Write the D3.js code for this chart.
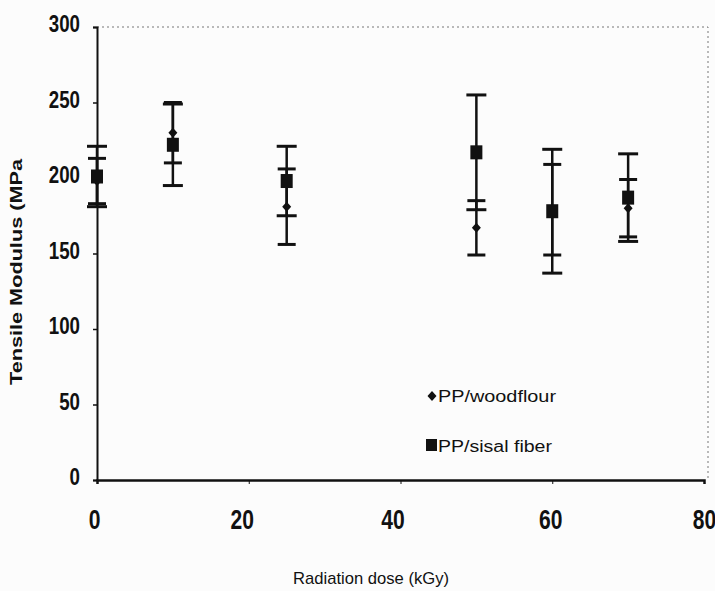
<!DOCTYPE html>
<html>
<head>
<meta charset="utf-8">
<script src="https://cdn.jsdelivr.net/npm/d3@7"></script>
<style>
  body { margin: 0; background: #fcfcfc; }
  svg { display: block; }
</style>
</head>
<body>
<div id="chart"></div>
<script>
const width = 715;
const height = 591;

// values
const doses = [0, 10, 25, 50, 60, 70];
const woodflour = [198, 230, 181, 167, 179, 180];
const woodflourErr = [15, 20, 25, 18, 30, 19];
const sisal = [201, 222, 198, 217, 178, 187];
const sisalErr = [20, 27, 23, 38, 41, 29];
const xTicks = [0, 20, 40, 60, 80];
const yTicks = [0, 50, 100, 150, 200, 250, 300];
const seriesNames = ["PP/woodflour", "PP/sisal fiber"];

const font = "'Liberation Sans', Arial, sans-serif";
const squeeze = 0.78; // the scan uses a narrow face

const x = d3.scaleLinear().domain([0, 80]).range([97, 704]);
const y = d3.scaleLinear().domain([0, 300]).range([480, 27]);

const svg = d3.select("#chart").append("svg")
  .attr("width", width)
  .attr("height", height)
  .style("font-family", font);

svg.append("rect").attr("width", width).attr("height", height).attr("fill", "#fcfcfc");

// faint dotted frame on top and right
svg.append("path")
  .attr("d", `M${x(0)},${y(300)} H${x(80) + 4} V${y(0)}`)
  .attr("fill", "none")
  .attr("stroke", "#777")
  .attr("stroke-width", 1)
  .attr("stroke-dasharray", "2,3");

// y axis
const yAxis = svg.append("g")
  .attr("transform", `translate(${x(0)},0)`)
  .call(d3.axisLeft(y).tickValues(yTicks).tickSize(4).tickPadding(14));
yAxis.select(".domain").attr("stroke", "#111").attr("stroke-width", 2);
yAxis.selectAll(".tick line").attr("stroke", "#111").attr("stroke-width", 1.5);
yAxis.selectAll("text")
  .attr("x", -17 / squeeze)
  .attr("dy", "0.2em")
  .attr("transform", `scale(${squeeze},1)`)
  .style("font-family", font)
  .style("font-size", "24px")
  .style("font-weight", "bold")
  .attr("fill", "#111");

// x axis
const xAxis = svg.append("g")
  .attr("transform", `translate(0,${y(0)})`)
  .call(d3.axisBottom(x).tickValues(xTicks).tickSize(4).tickPadding(26));
xAxis.select(".domain").attr("stroke", "#111").attr("stroke-width", 2.5);
xAxis.selectAll(".tick line").attr("stroke", "#111").attr("stroke-width", 1);
xAxis.selectAll("text")
  .attr("x", (d, i) => [-3, -7, -8, -2, 0][i] / squeeze)
  .attr("transform", `scale(${squeeze},1)`)
  .style("font-family", font)
  .style("font-size", "27px")
  .style("font-weight", "bold")
  .attr("fill", "#111");

// axis titles
svg.append("text")
  .attr("transform", `translate(22,272) rotate(-90)`)
  .attr("text-anchor", "middle")
  .attr("textLength", 226)
  .attr("lengthAdjust", "spacingAndGlyphs")
  .style("font-size", "17px")
  .style("font-weight", "bold")
  .attr("fill", "#111")
  .text("Tensile Modulus (MPa");

svg.append("text")
  .attr("x", 371)
  .attr("y", 584)
  .attr("text-anchor", "middle")
  .attr("textLength", 156)
  .attr("lengthAdjust", "spacingAndGlyphs")
  .style("font-size", "17px")
  .attr("fill", "#111")
  .text("Radiation dose (kGy)");

// error bars
function errorBars(values, errs, capW) {
  const g = svg.append("g").attr("stroke", "#111");
  const d = doses.map((dose, i) => ({ dose, v: values[i], e: errs[i] }));
  g.selectAll("line.stem").data(d).join("line")
    .attr("x1", p => x(p.dose)).attr("x2", p => x(p.dose))
    .attr("y1", p => y(p.v + p.e)).attr("y2", p => y(p.v - p.e))
    .attr("stroke-width", 2.5);
  g.selectAll("line.top").data(d).join("line")
    .attr("x1", p => x(p.dose) - capW / 2).attr("x2", p => x(p.dose) + capW / 2)
    .attr("y1", p => y(p.v + p.e)).attr("y2", p => y(p.v + p.e))
    .attr("stroke-width", 3);
  g.selectAll("line.bot").data(d).join("line")
    .attr("x1", p => x(p.dose) - capW / 2).attr("x2", p => x(p.dose) + capW / 2)
    .attr("y1", p => y(p.v - p.e)).attr("y2", p => y(p.v - p.e))
    .attr("stroke-width", 3);
}

errorBars(woodflour, woodflourErr, 18);
errorBars(sisal, sisalErr, 20);

// markers
svg.append("g").selectAll("path")
  .data(doses.map((dose, i) => [dose, woodflour[i]]))
  .join("path")
  .attr("transform", d => `translate(${x(d[0])},${y(d[1])})`)
  .attr("d", "M0,-5 L4.5,0 L0,5 L-4.5,0 Z")
  .attr("fill", "#111");

svg.append("g").selectAll("rect")
  .data(doses.map((dose, i) => [dose, sisal[i]]))
  .join("rect")
  .attr("x", d => x(d[0]) - 6)
  .attr("y", d => y(d[1]) - 7)
  .attr("width", 12)
  .attr("height", 14)
  .attr("fill", "#111");

// legend
const legend = svg.append("g").attr("transform", "translate(432,0)");
legend.append("path")
  .attr("transform", "translate(0,396)")
  .attr("d", "M0,-5 L4.5,0 L0,5 L-4.5,0 Z")
  .attr("fill", "#111");
legend.append("rect")
  .attr("x", -6).attr("y", 439).attr("width", 11).attr("height", 12)
  .attr("fill", "#111");
legend.selectAll("text")
  .data(seriesNames)
  .join("text")
  .attr("x", 6)
  .attr("y", (d, i) => 402 + i * 50)
  .attr("textLength", (d, i) => [118, 114][i])
  .attr("lengthAdjust", "spacingAndGlyphs")
  .style("font-size", "16px")
  .attr("fill", "#111")
  .text(d => d);
</script>
</body>
</html>
